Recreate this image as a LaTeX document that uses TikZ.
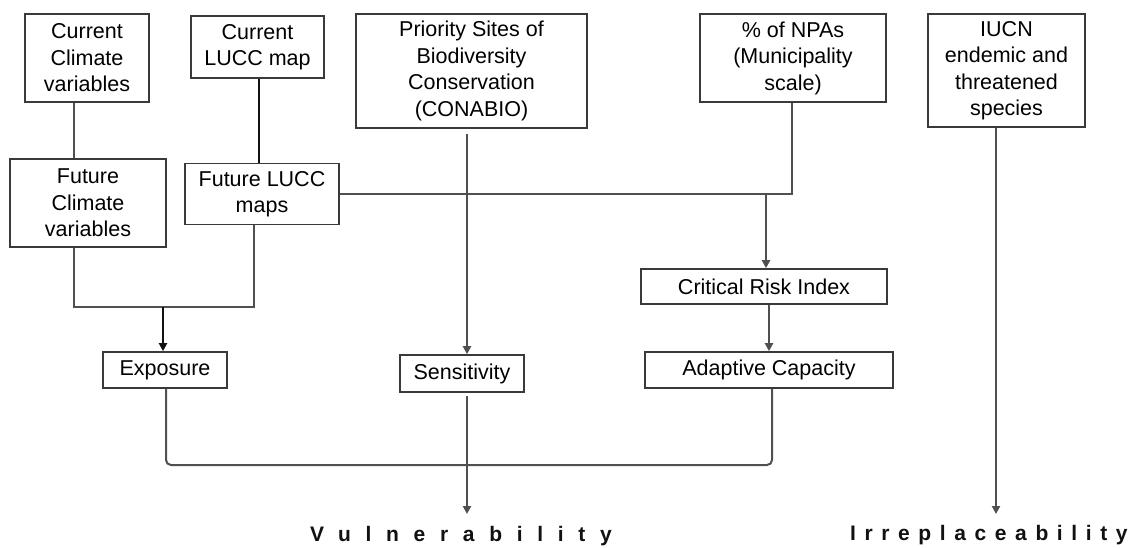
\documentclass[tikz,border=0pt]{standalone}
\usepackage{fontspec}
\setmainfont{Liberation Sans}
\usetikzlibrary{arrows.meta}
\definecolor{linegray}{HTML}{505050}
\definecolor{boxgray}{HTML}{3A3A3A}
\definecolor{heavyblack}{HTML}{111111}
\begin{document}
\begin{tikzpicture}[x=1pt,y=-1pt,
  box/.style={draw=boxgray, line width=1.6pt, fill=white, inner sep=0pt, align=center,
              font=\fontsize{21.5}{26.5}\selectfont},
  conn/.style={draw=linegray, line width=2pt},
  heavy/.style={draw=heavyblack, line width=2.8pt},
  arr/.style={-{Triangle[length=8pt,width=8pt]}},
  lab/.style={inner sep=0pt, text=heavyblack}
]
\useasboundingbox (0,0) rectangle (1137,547);
\fill[white] (0,0) rectangle (1137,547);

% boxes
\node[box, minimum width=124pt, minimum height=88pt] (curcli) at (87,58) {Current\\Climate\\variables};
\node[box, minimum width=133pt, minimum height=62pt] (curlucc) at (257.5,47) {Current\\LUCC map};
\node[box, minimum width=231pt, minimum height=114pt] (prio) at (471.5,71) {Priority Sites of\\Biodiversity\\Conservation\\(CONABIO)};
\node[box, minimum width=186pt, minimum height=88pt] (npa) at (793,58) {\% of NPAs\\(Municipality\\scale)};
\node[box, minimum width=157pt, minimum height=113pt] (iucn) at (1006.5,70.5) {IUCN\\endemic and\\threatened\\species};
\node[box, minimum width=156pt, minimum height=88pt] (futcli) at (88,203) {Future\\Climate\\variables};
\node[box, minimum width=154pt, minimum height=61pt] (futlucc) at (262,194) {Future LUCC\\maps};
\node[box, minimum width=246pt, minimum height=35pt] (cri) at (764,286.5) {Critical Risk Index};
\node[box, minimum width=248pt, minimum height=36pt] (adapt) at (769,370) {Adaptive Capacity};
\node[box, minimum width=124pt, minimum height=36pt] (expo) at (165,370) {Exposure};
\node[box, minimum width=124pt, minimum height=37pt] (sens) at (462,373.5) {Sensitivity};

% labels
\node[lab, anchor=base west] (vul) at (310,541)
  {\fontsize{21}{25}\bfseries\addfontfeature{LetterSpace=70}Vulnerability};
\node[lab, anchor=base west] (irr) at (850,540)
  {\fontsize{21}{25}\bfseries\addfontfeature{LetterSpace=41}Irreplaceability};

% helper coordinates
\coordinate (a) at (74,307);
\coordinate (b) at (254,307);
\coordinate (c) at (163,307);
\coordinate (lx) at (259,0);
\coordinate (px) at (467,134);
\coordinate (h) at (792,194);
\coordinate (v) at (766,194);
\coordinate (w) at (769,0);
\coordinate (bl) at (166,465);
\coordinate (br) at (772,465);
\coordinate (sb) at (467,396);
\coordinate (vt) at (467,514);
\coordinate (ix) at (996,0);
\coordinate (it) at (996,514);

% connectors
\draw[conn] (a |- curcli.south) -- (a |- futcli.north);
\draw[conn] (a |- futcli.south) -- (a) -- (b) -- (b |- futlucc.south);
\draw[heavy] (lx |- curlucc.south) -- (lx |- futlucc.north);
\draw[heavy, arr] (c) -- (c |- expo.north);
\draw[conn, arr] (px) -- (px |- sens.north);
\draw[conn] (futlucc.east) -- (h) -- (h |- npa.south);
\draw[conn, arr] (v) -- (v |- cri.north);
\draw[conn, arr] (w |- cri.south) -- (w |- adapt.north);
\draw[conn, rounded corners=5pt] (bl |- expo.south) -- (bl) -- (br) -- (br |- adapt.south);
\draw[conn, arr] (sb) -- (vt);
\draw[conn, arr] (ix |- iucn.south) -- (it);
\end{tikzpicture}
\end{document}
